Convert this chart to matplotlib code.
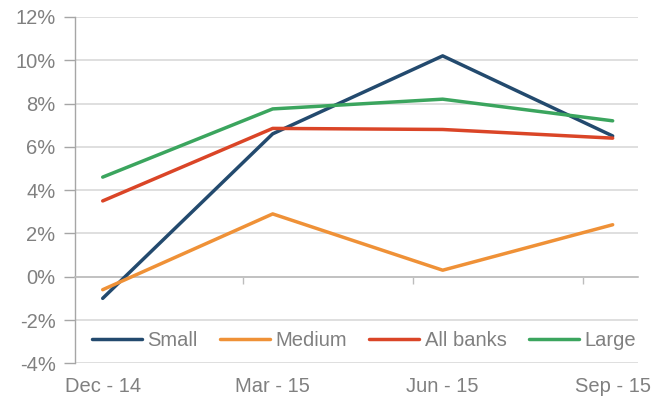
import matplotlib
matplotlib.use("Agg")
import matplotlib.pyplot as plt
from matplotlib.ticker import FuncFormatter, FixedLocator

# Quarterly growth by bank size
quarters = ["Dec - 14", "Mar - 15", "Jun - 15", "Sep - 15"]
small = [-1.0, 6.6, 10.2, 6.5]
medium = [-0.6, 2.9, 0.3, 2.4]
all_banks = [3.5, 6.85, 6.8, 6.4]
large = [4.6, 7.75, 8.2, 7.2]

series = [
    ("Small", small, "#234a6e"),
    ("Medium", medium, "#ef9137"),
    ("All banks", all_banks, "#da4527"),
    ("Large", large, "#3ba55e"),
]

plt.rcParams["font.family"] = ["Liberation Sans", "DejaVu Sans"]
text_gray = "#808080"
grid_gray = "#d9d9d9"
axis_gray = "#a6a6a6"
fs = 14.5

fig = plt.figure(figsize=(6.66, 4.01), dpi=100)
ax = fig.add_axes([75 / 666, 1 - 363.3 / 401, (638 - 75) / 666, (363.3 - 16.9) / 401])

x = list(range(len(quarters)))
for name, vals, color in series:
    ax.plot(x, vals, color=color, lw=2.5, label=name, solid_capstyle="round", zorder=3)

ax.set_xlim(-0.163, 3.149)
ax.set_ylim(-4, 12)

# Horizontal gridlines and left axis
ax.set_yticks(range(-4, 13, 2))
ax.yaxis.set_major_formatter(FuncFormatter(lambda v, _: f"{v:.0f}%"))
ax.grid(axis="y", color=grid_gray, lw=1.2, zorder=0)
ax.tick_params(axis="y", length=8, width=1.0, color=axis_gray, pad=6,
               labelsize=fs, labelcolor=text_gray)

for side in ("top", "right"):
    ax.spines[side].set_visible(False)
ax.spines["left"].set_color(axis_gray)
ax.spines["left"].set_linewidth(1.0)

# Category axis crosses at zero, with tick marks between quarters
ax.spines["bottom"].set_position(("data", 0))
ax.spines["bottom"].set_color("#bdbdbd")
ax.spines["bottom"].set_linewidth(1.2)
ax.set_xticks(x)
ax.set_xticklabels([])
ax.tick_params(axis="x", which="major", length=0)
ax.xaxis.set_minor_locator(FixedLocator([i + 0.826 for i in x[:-1]]))
ax.tick_params(axis="x", which="minor", length=5, width=1.0, color="#bdbdbd")

# Quarter labels along the bottom edge
sec = ax.secondary_xaxis("bottom")
sec.set_xticks(x)
sec.set_xticklabels(quarters)
sec.tick_params(length=0, pad=10, labelsize=fs, labelcolor=text_gray)
sec.spines["bottom"].set_visible(False)

leg = ax.legend(loc="center", bbox_to_anchor=(0.513, (341 - 363.3) / (16.9 - 363.3)),
                ncol=4, frameon=True, fontsize=fs, handlelength=2.5,
                handletextpad=0.25, columnspacing=1.1, borderpad=0.2)
leg.get_frame().set_edgecolor("none")
leg.get_frame().set_facecolor("white")
leg.get_frame().set_alpha(1.0)
for t in leg.get_texts():
    t.set_color(text_gray)

fig.savefig("out.png", dpi=100)
